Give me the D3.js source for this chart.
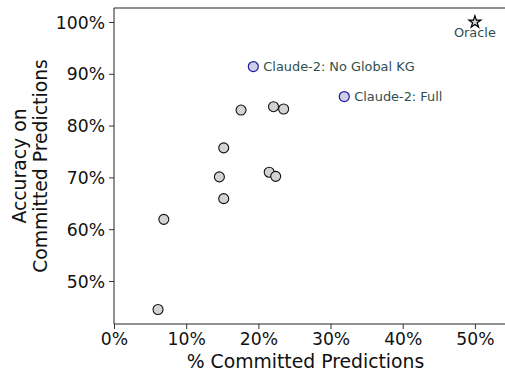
<!DOCTYPE html>
<html><head><meta charset="utf-8">
<script src="https://cdn.jsdelivr.net/npm/d3@7"></script>
<style>body{margin:0;background:#fff}svg{display:block;font-family:"DejaVu Sans",sans-serif}</style>
</head><body><svg id="c" width="505" height="373"></svg>
<script>
const baseX = [17.6, 22.1, 23.5, 15.2, 14.6, 21.5, 22.4, 15.2, 6.9, 6.1];
const baseY = [83.0, 83.65, 83.2, 75.7, 70.1, 71.0, 70.2, 65.9, 61.9, 44.5];
const claudeLabels = ["Claude-2: No Global KG", "Claude-2: Full"];
const claudeX = [19.3, 31.9];
const claudeY = [91.4, 85.6];
const oracleLabel = "Oracle";
const oracleX = [50];
const oracleY = [100];
const xTicks = [0, 10, 20, 30, 40, 50];
const yTicks = [50, 60, 70, 80, 90, 100];

const svg = d3.select("#c");
const L = 114, R = 511, T = 8, B = 324;
const x = d3.scaleLinear().domain([0, 55]).range([L, R]);
const y = d3.scaleLinear().domain([41.7, 102.7]).range([B, T]);

const fmt = d => d + "%";
const gx = svg.append("g").attr("transform", `translate(0,${B})`)
  .call(d3.axisBottom(x).tickValues(xTicks).tickFormat(fmt).tickSize(5).tickPadding(4));
const gy = svg.append("g").attr("transform", `translate(${L},0)`)
  .call(d3.axisLeft(y).tickValues(yTicks).tickFormat(fmt).tickSize(5).tickPadding(4));
[gx, gy].forEach(g => {
  g.select(".domain").remove();
  g.selectAll("line").attr("stroke", "#333");
  g.selectAll("text").attr("fill", "#111").style("font-size", "17.2px").style("font-family", "DejaVu Sans");
});
gy.selectAll("text").attr("dy", "0.35em");
gx.selectAll("text").attr("dy", "0.7em");
// spines
svg.append("line").attr("x1", L).attr("x2", L).attr("y1", T).attr("y2", B).attr("stroke", "#222");
svg.append("line").attr("x1", L).attr("x2", R).attr("y1", B).attr("y2", B).attr("stroke", "#222");
svg.append("line").attr("x1", L).attr("x2", R).attr("y1", T).attr("y2", T).attr("stroke", "#222");

// axis labels
svg.append("text").attr("x", (L + 505) / 2 - 4).attr("y", 367.5).attr("text-anchor", "middle")
  .style("font-size", "18.8px").attr("fill", "#111").text("% Committed Predictions");
const yl = svg.append("text").attr("transform", `translate(0,${(T + B) / 2}) rotate(-90)`)
  .attr("text-anchor", "middle").style("font-size", "18.8px").attr("fill", "#111");
yl.append("tspan").attr("x", 0).attr("y", 26).text("Accuracy on");
yl.append("tspan").attr("x", 0).attr("y", 47).text("Committed Predictions");

// base points
svg.append("g").selectAll("circle").data(baseX).join("circle")
  .attr("cx", (d) => x(d)).attr("cy", (d, i) => y(baseY[i])).attr("r", 5)
  .attr("fill", "#d3d3d3").attr("stroke", "#111").attr("stroke-width", 1.1);

// claude points
const cg = svg.append("g");
cg.selectAll("circle").data(claudeX).join("circle")
  .attr("cx", d => x(d)).attr("cy", (d, i) => y(claudeY[i])).attr("r", 5)
  .attr("fill", "#cfcfe6").attr("stroke", "#1c1ca8").attr("stroke-width", 1.2);
cg.selectAll("text").data(claudeLabels).join("text")
  .attr("x", (d, i) => x(claudeX[i]) + 10).attr("y", (d, i) => y(claudeY[i]))
  .attr("dy", "0.35em").style("font-size", "12.9px").attr("fill", "#2f4f4f").text(d => d);

// oracle star
const star = d3.symbol().type(d3.symbolStar).size(45);
svg.append("path").attr("d", star())
  .attr("transform", `translate(${x(oracleX[0])},${y(oracleY[0])})`)
  .attr("fill", "#d3d3d3").attr("stroke", "#000").attr("stroke-width", 1.2);
svg.append("text").attr("x", x(oracleX[0])).attr("y", y(oracleY[0]) + 10)
  .attr("dy", "0.35em").attr("text-anchor", "middle")
  .style("font-size", "12.9px").attr("fill", "#2f4f4f").text(oracleLabel);
</script></body></html>
